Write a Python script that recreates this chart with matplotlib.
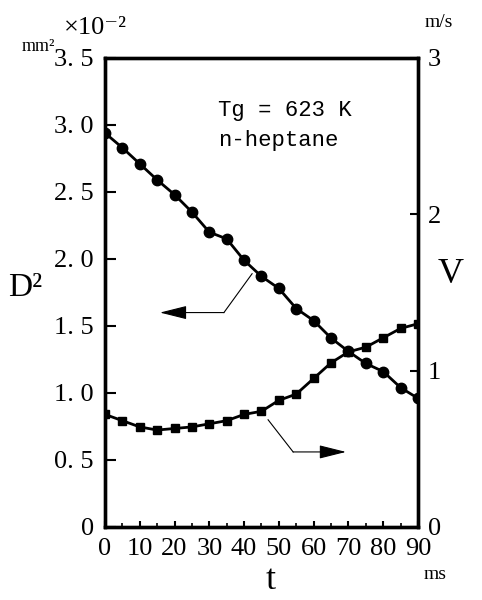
import numpy as np
import matplotlib.pyplot as plt

# data
t = [0, 5, 10, 15, 20, 25, 30, 35, 40, 45, 50, 55, 60, 65, 70, 75, 80, 85, 90]
d2 = [2.94, 2.83, 2.71, 2.59, 2.48, 2.35, 2.20, 2.15, 1.99, 1.87, 1.78,
      1.63, 1.54, 1.41, 1.31, 1.22, 1.16, 1.04, 0.96]
v = [0.72, 0.68, 0.64, 0.62, 0.63, 0.64, 0.66, 0.68, 0.72, 0.74, 0.81,
     0.85, 0.95, 1.05, 1.12, 1.15, 1.21, 1.27, 1.30]

xticks = [0, 10, 20, 30, 40, 50, 60, 70, 80, 90]
d2_ticks = [0, 0.5, 1.0, 1.5, 2.0, 2.5, 3.0, 3.5]
d2_ticklabels = ["0", "0. 5", "1. 0", "1. 5", "2. 0", "2. 5", "3. 0", "3. 5"]
v_ticks = [0, 1, 2, 3]

# arrow leaders (t, D2) : start, kink, tip
arrow_left = [(42.3, 1.89), (34.2, 1.60), (15.8, 1.60)]
arrow_right = [(46.9, 0.80), (54.1, 0.56), (69.3, 0.56)]

serif = ['Liberation Serif', 'DejaVu Serif']
mono = ['Liberation Mono', 'DejaVu Sans Mono']

fig = plt.figure(figsize=(4.82, 6.0), dpi=100)
ax = fig.add_axes([0.2178, 0.1217, 0.6494, 0.7817])
ax2 = ax.twinx()

ax.plot(t, d2, 'k-', lw=2.0, marker='o', ms=7.5)
ax2.plot(t, v, 'k-', lw=2.0, marker='s', ms=6)

ax.set_xlim(0, 90)
ax.set_ylim(0, 3.5)
ax2.set_ylim(0, 3)

ax.set_xticks(xticks)
ax.set_xticks(range(5, 90, 10), minor=True)
ax.set_yticks(d2_ticks)
ax.set_yticklabels(d2_ticklabels)
ax2.set_yticks(v_ticks)

for a in (ax, ax2):
    for s in a.spines.values():
        s.set_linewidth(2.4)

ax.tick_params(axis='y', direction='in', length=8, width=1.5, pad=8, labelsize=19)
ax.tick_params(axis='x', direction='in', length=4, width=1.5, pad=8, labelsize=19)
ax.tick_params(axis='x', which='minor', direction='in', length=3, width=1.2)
ax2.tick_params(axis='y', direction='in', length=6, width=1.5, pad=7, labelsize=19)
for lab in ax.get_xticklabels() + ax.get_yticklabels() + ax2.get_yticklabels():
    lab.set_family(serif)

# arrows
for pts in (arrow_left, arrow_right):
    ax.plot([pts[0][0], pts[1][0]], [pts[0][1], pts[1][1]], 'k-', lw=0.8)
    ax.annotate('', xy=pts[2], xytext=pts[1],
                arrowprops=dict(arrowstyle='-|>,head_length=1.2,head_width=0.3',
                                mutation_scale=14, lw=0.8, color='k',
                                shrinkA=0, shrinkB=0))

ax.text(32.5, 3.07, 'Tg = 623 K', family=mono, fontsize=16, va='baseline')
ax.text(32.5, 2.84, 'n-heptane', family=mono, fontsize=16, va='baseline')

fig.text(0.052, 0.52, 'D\u00b2', family=serif, fontsize=24, ha='center', va='center')
fig.text(0.934, 0.543, 'V', family=serif, fontsize=26, ha='center', va='center')
fig.text(0.562, 0.033, 't', family=serif, fontsize=26, ha='center', va='center')
fig.text(0.902, 0.042, 'ms', family=serif, fontsize=14, ha='center', va='center')
fig.text(0.911, 0.963, 'm/s', family=serif, fontsize=14, ha='center', va='center')
fig.text(0.080, 0.923, 'mm\u00b2', family=serif, fontsize=13, ha='center', va='center')
fig.text(0.197, 0.953, '\u00d710\u207b\u00b2', family=serif, fontsize=19, ha='center', va='center')

fig.savefig('out.png', dpi=100)
